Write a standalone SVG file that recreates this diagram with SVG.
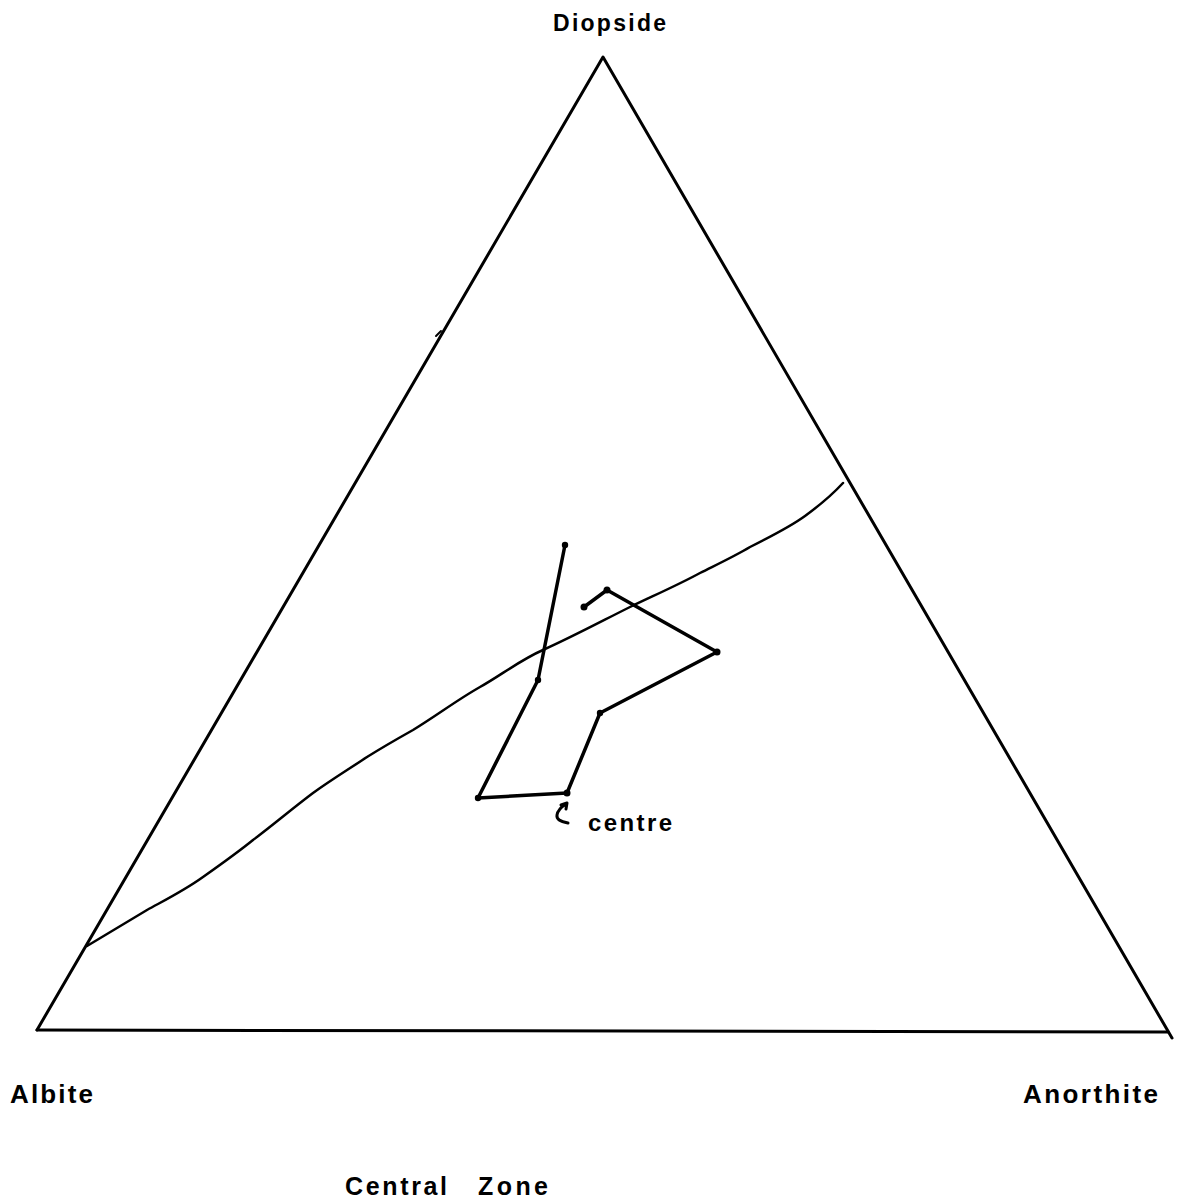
<svg xmlns="http://www.w3.org/2000/svg" width="1179" height="1203" viewBox="0 0 1179 1203">
<style>
.lbl{font-family:"Liberation Sans",Arial,sans-serif;font-weight:bold;fill:#000}
.edge{fill:none;stroke:#000;stroke-linecap:round;stroke-linejoin:round}
.dot{fill:#000}
</style>
<rect width="1179" height="1203" fill="#fff"/>
<g id="triangle">
<path class="edge" stroke-width="3" d="M37,1030 L603,57 L1172,1038"/>
<path class="edge" stroke-width="3" d="M37,1030 L1168,1032"/>
<path class="edge" stroke-width="2" d="M436,336 L441,331"/>
</g>
<g id="label-diopside"><text class="lbl" x="553" y="31" font-size="23" textLength="113" lengthAdjust="spacing">Diopside</text></g>
<g id="label-albite"><text class="lbl" x="10" y="1103" font-size="26" textLength="83" lengthAdjust="spacing">Albite</text></g>
<g id="label-anorthite"><text class="lbl" x="1023" y="1103" font-size="26" textLength="135" lengthAdjust="spacing">Anorthite</text></g>
<g id="label-title"><text class="lbl" x="345" y="1195" font-size="25" textLength="102" lengthAdjust="spacing">Central</text><text class="lbl" x="478" y="1195" font-size="25" textLength="70" lengthAdjust="spacing">Zone</text></g>
<g id="connectors">
<path id="boundary" class="edge" stroke-width="2.5" d="M87,946 C110,932 130,920 147,910 C167,899 185,890 203,877 C220,865 237,853 253,840 C273,825 293,808 313,793 C331,780 349,769 367,757 C383,747 397,739 413,730 C436,716 457,700 480,687 C500,676 520,660 543,650 C572,637 600,622 630,607 C655,595 680,584 700,573 C720,563 735,556 750,547 C770,537 790,527 805,516 C820,505 832,495 843,483"/>
<path id="trend" class="edge" stroke-width="3.5" d="M565,545 L538,680 L478,798 L567,793 L600,713 L717,652 L607,590 L584,607"/>
<path id="centre-arrow" class="edge" stroke-width="3" d="M568,823 Q556,821 557,815 Q558,809 566,804 M561,805 L567,803 L566,809"/>
</g>
<g id="points">
<circle class="dot" cx="565" cy="545" r="3.2"/>
<circle class="dot" cx="538" cy="680" r="3.2"/>
<circle class="dot" cx="478" cy="798" r="3.2"/>
<circle class="dot" cx="567" cy="793" r="3.5"/>
<circle class="dot" cx="600" cy="713" r="3.2"/>
<circle class="dot" cx="717" cy="652" r="3.5"/>
<circle class="dot" cx="607" cy="590" r="3.5"/>
<circle class="dot" cx="584" cy="607" r="3.5"/>
</g>
<g id="label-centre"><text class="lbl" x="588" y="831" font-size="24" textLength="84" lengthAdjust="spacing">centre</text></g>
</svg>
